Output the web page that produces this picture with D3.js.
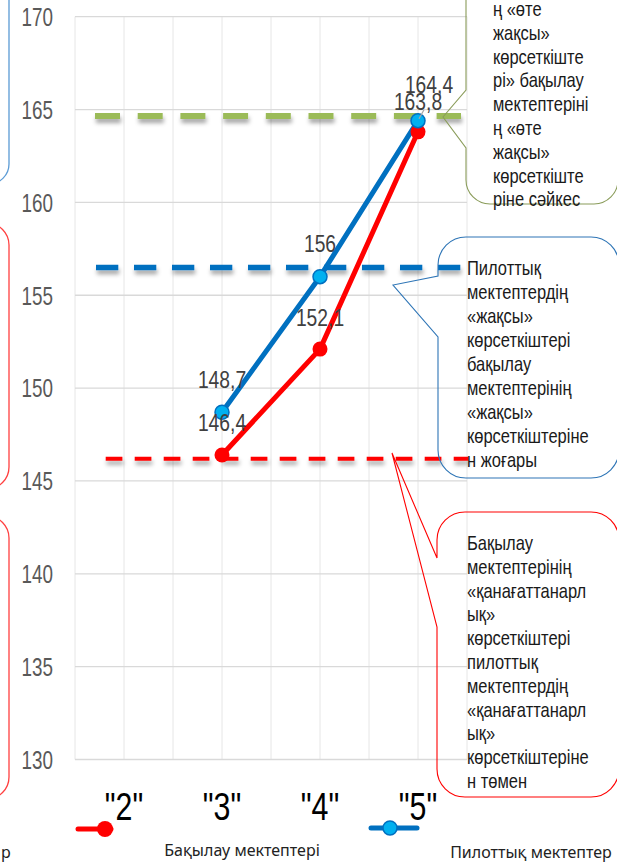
<!DOCTYPE html>
<html><head><meta charset="utf-8">
<script src="https://cdn.jsdelivr.net/npm/d3@7"></script>
<style>html,body{margin:0;padding:0;background:#fff;overflow:hidden}</style>
</head><body>
<svg id="c" width="617" height="863"></svg>
<script>
// ---- data ----
const categories = ['"2"', '"3"', '"4"', '"5"'];
const controlSchools = [null, 146.4, 152.1, 163.8];   // Бақылау мектептері
const pilotSchools   = [null, 148.7, 156.0, 164.4];   // Пилоттық мектептер
const yTicks = [130, 135, 140, 145, 150, 155, 160, 165, 170];
const refLevels = [164.65, 156.5, 146.2];             // green, blue, red dashed levels
const legendLabels = ["Бақылау мектептері", "Пилоттық мектептер"];
const calloutGreen = ["ң «өте", "жақсы»", "көрсеткіште", "рі» бақылау", "мектептеріні", "ң «өте", "жақсы»", "көрсеткіште", "ріне сәйкес"];
const calloutBlue = ["Пилоттық", "мектептердің", "«жақсы»", "көрсеткіштері", "бақылау", "мектептерінің", "«жақсы»", "көрсеткіштеріне", "н жоғары"];
const calloutRed = ["Бақылау", "мектептерінің", "«қанағаттанарл", "ық»", "көрсеткіштері", "пилоттық", "мектептердің", "«қанағаттанарл", "ық»", "көрсеткіштеріне", "н төмен"];

// ---- layout ----
const svg = d3.select("#c");
const x = d3.scaleBand().domain(categories).range([75, 467]).padding(0);
const y = d3.scaleLinear().domain([130, 170]).range([759.5, 16.7]);
const cx = c => x(c) + x.bandwidth() / 2;
const fmt = v => d3.format(".1~f")(v).replace(".", ",");
const SANS = "'Liberation Sans',Arial,sans-serif";

const defs = svg.append("defs");
const f = defs.append("filter").attr("id", "sh").attr("filterUnits", "userSpaceOnUse")
  .attr("x", 0).attr("y", 0).attr("width", 617).attr("height", 863);
f.append("feDropShadow").attr("dx", 1).attr("dy", 4).attr("stdDeviation", 2).attr("flood-color", "#000").attr("flood-opacity", 0.35);

// gridlines
const vlines = [];
categories.forEach(c => { vlines.push(x(c)); vlines.push(cx(c)); });
vlines.push(x.range()[1]);
svg.append("g").selectAll("line").data(vlines).join("line")
  .attr("x1", d => d).attr("x2", d => d).attr("y1", y(170)).attr("y2", y(130))
  .attr("stroke", "#E6E6E6").attr("stroke-width", 1);
svg.append("g").selectAll("line").data(yTicks).join("line")
  .attr("x1", 75).attr("x2", 467).attr("y1", d => y(d)).attr("y2", d => y(d))
  .attr("stroke", "#D9D9D9").attr("stroke-width", 1.3);

// y tick labels
svg.append("g").selectAll("text").data(yTicks).join("text")
  .attr("transform", d => `translate(53,${y(d) + 9.3}) scale(0.82,1.13)`)
  .attr("text-anchor", "end").attr("font-family", SANS).attr("font-size", 23)
  .attr("fill", "#595959").text(d => d);

// reference dashed lines
const refStyle = [
  {c: "#9BBB59", w: 6, dash: "25 17.7", x1: 95, x2: 461},
  {c: "#0070C0", w: 5.5, dash: "22.3 15.7", x1: 96, x2: 462},
  {c: "#FF0000", w: 4, dash: "16.7 12.3", x1: 105.7, x2: 468}
];
svg.append("g").attr("filter", "url(#sh)").selectAll("line").data(refLevels).join("line")
  .attr("x1", (d, i) => refStyle[i].x1).attr("x2", (d, i) => refStyle[i].x2)
  .attr("y1", d => y(d)).attr("y2", d => y(d))
  .attr("stroke", (d, i) => refStyle[i].c).attr("stroke-width", (d, i) => refStyle[i].w)
  .attr("stroke-dasharray", (d, i) => refStyle[i].dash);

// series
const series = [
  {vals: controlSchools, line: "#FF0000", fill: "#FF0000", stroke: "none", r: 7.5},
  {vals: pilotSchools, line: "#0070C0", fill: "#00B0F0", stroke: "#0070C0", r: 7}
];
const lineGen = d3.line().defined(d => d.v != null).x(d => cx(d.c)).y(d => y(d.v));
series.forEach(s => {
  const pts = categories.map((c, i) => ({c, v: s.vals[i]}));
  svg.append("path").datum(pts).attr("d", lineGen).attr("fill", "none")
    .attr("stroke", s.line).attr("stroke-width", 5).attr("stroke-linejoin", "round");
});
series.forEach(s => {
  const pts = categories.map((c, i) => ({c, v: s.vals[i]})).filter(d => d.v != null);
  svg.append("g").selectAll("circle").data(pts).join("circle")
    .attr("cx", d => cx(d.c)).attr("cy", d => y(d.v)).attr("r", s.r)
    .attr("fill", s.fill).attr("stroke", s.stroke).attr("stroke-width", 1.5);
});

// data labels
const labelShift = [[null, [0, -23.5], [0, -23], [0, -22]], [null, [0, -24], [0, -25], [11, -28]]];
series.forEach((s, si) => {
  const pts = categories.map((c, i) => ({c, v: s.vals[i], sh: labelShift[si][i]})).filter(d => d.v != null);
  svg.append("g").selectAll("text").data(pts).join("text")
    .attr("transform", d => `translate(${cx(d.c) + d.sh[0]},${y(d.v) + d.sh[1]}) scale(0.82,1.05)`)
    .attr("text-anchor", "middle").attr("font-family", SANS).attr("font-size", 23.5)
    .attr("fill", "#404040").text(d => fmt(d.v));
});
// leader line for 164,4
svg.append("line").attr("x1", cx('"5"') + 1).attr("y1", y(164.4) - 2).attr("x2", cx('"5"') + 6).attr("y2", y(164.4) - 11)
  .attr("stroke", "#A6A6A6").attr("stroke-width", 1.2);

// x category labels
svg.append("g").selectAll("text").data(categories).join("text")
  .attr("transform", d => `translate(${cx(d)},819.5) scale(0.82,1.04)`)
  .attr("text-anchor", "middle").attr("font-family", SANS).attr("font-size", 37)
  .attr("fill", "#000").text(d => d);

// callouts
function callout(x0, y0, x1, y1, r, tip, a, b) {
  const p = d3.path();
  p.moveTo(x0 + r, y0);
  p.lineTo(x1 - r, y0); p.arcTo(x1, y0, x1, y0 + r, r);
  p.lineTo(x1, y1 - r); p.arcTo(x1, y1, x1 - r, y1, r);
  p.lineTo(x0 + r, y1); p.arcTo(x0, y1, x0, y1 - r, r);
  if (tip) { p.lineTo(x0, b); p.lineTo(tip[0], tip[1]); p.lineTo(x0, a); }
  p.lineTo(x0, y0 + r); p.arcTo(x0, y0, x0 + r, y0, r);
  p.closePath();
  return p.toString();
}
const callouts = [
  {d: callout(466, -40, 618, 204, 24, [443, 117], 90, 148), c: "#8A9C5A", w: 1.1},
  {d: callout(438, 237, 619, 478, 28, [393, 285], 276, 337), c: "#2E75B6", w: 1.1},
  {d: callout(437, 512, 619, 797, 28, [392, 453], 558, 627), c: "#FF0000", w: 1.1},
  {d: callout(-150, -40, 9, 184, 20), c: "#5B9BD5", w: 1.3},
  {d: callout(-150, 223, 9, 489, 22), c: "#FF4040", w: 1.3},
  {d: callout(-150, 516, 9, 799, 22), c: "#FF4040", w: 1.3}
];
svg.append("g").selectAll("path").data(callouts).join("path")
  .attr("d", d => d.d).attr("fill", "none").attr("stroke", d => d.c).attr("stroke-width", d => d.w);

function calloutText(lines, x0, yFirst, step) {
  svg.append("g").selectAll("text").data(lines).join("text")
    .attr("transform", (d, i) => `translate(${x0},${yFirst + i * step}) scale(1,1.22)`)
    .attr("font-family", SANS).attr("font-size", 16.5).attr("fill", "#1a1a1a").text(d => d);
}
calloutText(calloutGreen, 493, 16, 23.8);
calloutText(calloutBlue, 467, 275, 24);
calloutText(calloutRed, 467, 550, 23.8);

// legend
const LEG = "'Noto Sans','Open Sans',sans-serif";
svg.append("line").attr("x1", 78).attr("x2", 111).attr("y1", 829).attr("y2", 829).attr("stroke", "#FF0000").attr("stroke-width", 5).attr("stroke-linecap", "round");
svg.append("circle").attr("cx", 105).attr("cy", 829).attr("r", 8).attr("fill", "#FF0000");
svg.append("line").attr("x1", 371).attr("x2", 417).attr("y1", 828).attr("y2", 828).attr("stroke", "#0070C0").attr("stroke-width", 5).attr("stroke-linecap", "round");
svg.append("circle").attr("cx", 390).attr("cy", 828).attr("r", 7).attr("fill", "#00B0F0").attr("stroke", "#0070C0").attr("stroke-width", 1.5);
svg.append("text").attr("x", 242).attr("y", 856).attr("text-anchor", "middle").attr("font-family", LEG).attr("font-size", 16).attr("fill", "#222").text(legendLabels[0]);
svg.append("text").attr("x", 531).attr("y", 858).attr("text-anchor", "middle").attr("font-family", LEG).attr("font-size", 16).attr("fill", "#222").text(legendLabels[1]);
svg.append("text").attr("x", 1).attr("y", 858).attr("font-family", LEG).attr("font-size", 16).attr("fill", "#222").text("р");
</script>
</body></html>
